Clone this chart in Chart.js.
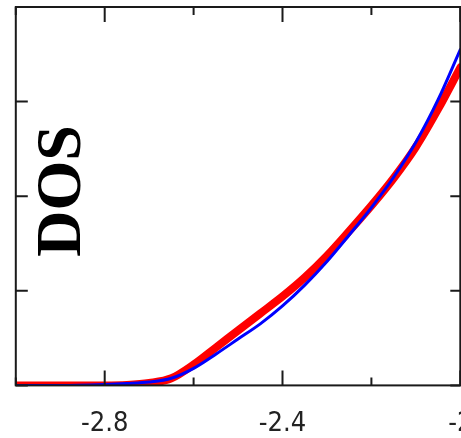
<!DOCTYPE html>
<html>
<head>
<meta charset="utf-8">
<script src="https://cdn.jsdelivr.net/npm/chart.js@4"></script>
<style>
  html, body { margin: 0; padding: 0; background: #fff; overflow: hidden; }
  #wrap { position: absolute; left: -7.3px; top: 0; }
</style>
</head>
<body>
<div id="wrap"><canvas id="dosChart" width="520" height="470"></canvas></div>
<script>
// energy axis (x) and the two DOS curves
const xValues = [-3.0, -2.9, -2.8, -2.75, -2.7, -2.65, -2.6, -2.55, -2.5, -2.45, -2.4, -2.35, -2.3, -2.25, -2.2, -2.15, -2.1, -2.05, -2.0];
const dosBlue = [0, 0, 0.01, 0.02, 0.035, 0.075, 0.18, 0.33, 0.49, 0.65, 0.84, 1.06, 1.31, 1.59, 1.88, 2.20, 2.57, 3.02, 3.55];
const dosRed  = [0, 0, 0, 0.005, 0.025, 0.075, 0.22, 0.40, 0.58, 0.76, 0.94, 1.14, 1.37, 1.63, 1.90, 2.19, 2.52, 2.92, 3.36];

// tick positions / labels
const xTicks = [-3.0, -2.8, -2.6, -2.4, -2.2, -2.0];
const xTickLabels = ["", "-2.8", "", "-2.4", "", "-2"];
const yTicks = [0, 1, 2, 3, 4];
const yLabel = "DOS";

const toPoints = (ys) => xValues.map((x, i) => ({ x: x, y: ys[i] }));

// frame, inward tick marks and the big DOS label
const framePlugin = {
  id: "frame",
  afterDatasetsDraw(chart) {
    const ctx = chart.ctx;
    const a = chart.chartArea;
    const xs = chart.scales.x;
    const ys = chart.scales.y;
    ctx.save();
    ctx.strokeStyle = "#1a1a1a";
    ctx.lineWidth = 2;
    ctx.strokeRect(a.left, a.top, a.right - a.left, a.bottom - a.top);

    ctx.beginPath();
    xTicks.forEach((v, i) => {
      const px = xs.getPixelForValue(v);
      const len = xTickLabels[i] ? 15 : 8;
      ctx.moveTo(px, a.bottom);
      ctx.lineTo(px, a.bottom - len);
      ctx.moveTo(px, a.top);
      ctx.lineTo(px, a.top + len);
    });
    yTicks.forEach((v) => {
      const py = ys.getPixelForValue(v);
      ctx.moveTo(a.left, py);
      ctx.lineTo(a.left + 12, py);
      ctx.moveTo(a.right, py);
      ctx.lineTo(a.right - 10, py);
    });
    ctx.stroke();

    // rotated axis title inside the plot
    ctx.translate(a.left + 48, a.top + 184);
    ctx.rotate(-Math.PI / 2);
    ctx.fillStyle = "#000";
    ctx.font = "bold 64px 'Liberation Serif', 'DejaVu Serif', serif";
    ctx.textAlign = "center";
    ctx.textBaseline = "middle";
    ctx.fillText(yLabel, 0, 0);
    ctx.restore();
  },
};

window.addEventListener("DOMContentLoaded", () => {
  new Chart(document.getElementById("dosChart"), {
    type: "line",
    data: {
      datasets: [
        {
          label: "blue",
          data: toPoints(dosBlue),
          borderColor: "rgb(0, 0, 255)",
          borderWidth: 3,
          pointRadius: 0,
          cubicInterpolationMode: "monotone",
          borderCapStyle: "round",
          fill: false,
        },
        {
          label: "red",
          data: toPoints(dosRed),
          borderColor: "rgb(255, 0, 0)",
          borderWidth: 8,
          pointRadius: 0,
          cubicInterpolationMode: "monotone",
          borderCapStyle: "round",
          fill: false,
        },
      ],
    },
    options: {
      responsive: false,
      devicePixelRatio: 1,
      animation: false,
      events: [],
      layout: { padding: { left: 12.7, top: 7, right: 52.7, bottom: 6.6 } },
      plugins: { legend: { display: false }, tooltip: { enabled: false } },
      scales: {
        x: {
          type: "linear",
          min: -3.0,
          max: -2.0,
          afterBuildTicks: (scale) => {
            scale.ticks = xTicks.map((v) => ({ value: v }));
          },
          grid: { display: false, drawTicks: false },
          border: { display: false },
          ticks: {
            padding: 22.8,
            color: "#222",
            maxRotation: 0,
            autoSkip: false,
            font: { family: "'Liberation Sans Narrow', 'DejaVu Sans Condensed', sans-serif", size: 27 },
            callback: (value, index) => xTickLabels[index],
          },
        },
        y: {
          display: false,
          min: 0,
          max: 4,
        },
      },
    },
    plugins: [framePlugin],
  });
});
</script>
</body>
</html>
